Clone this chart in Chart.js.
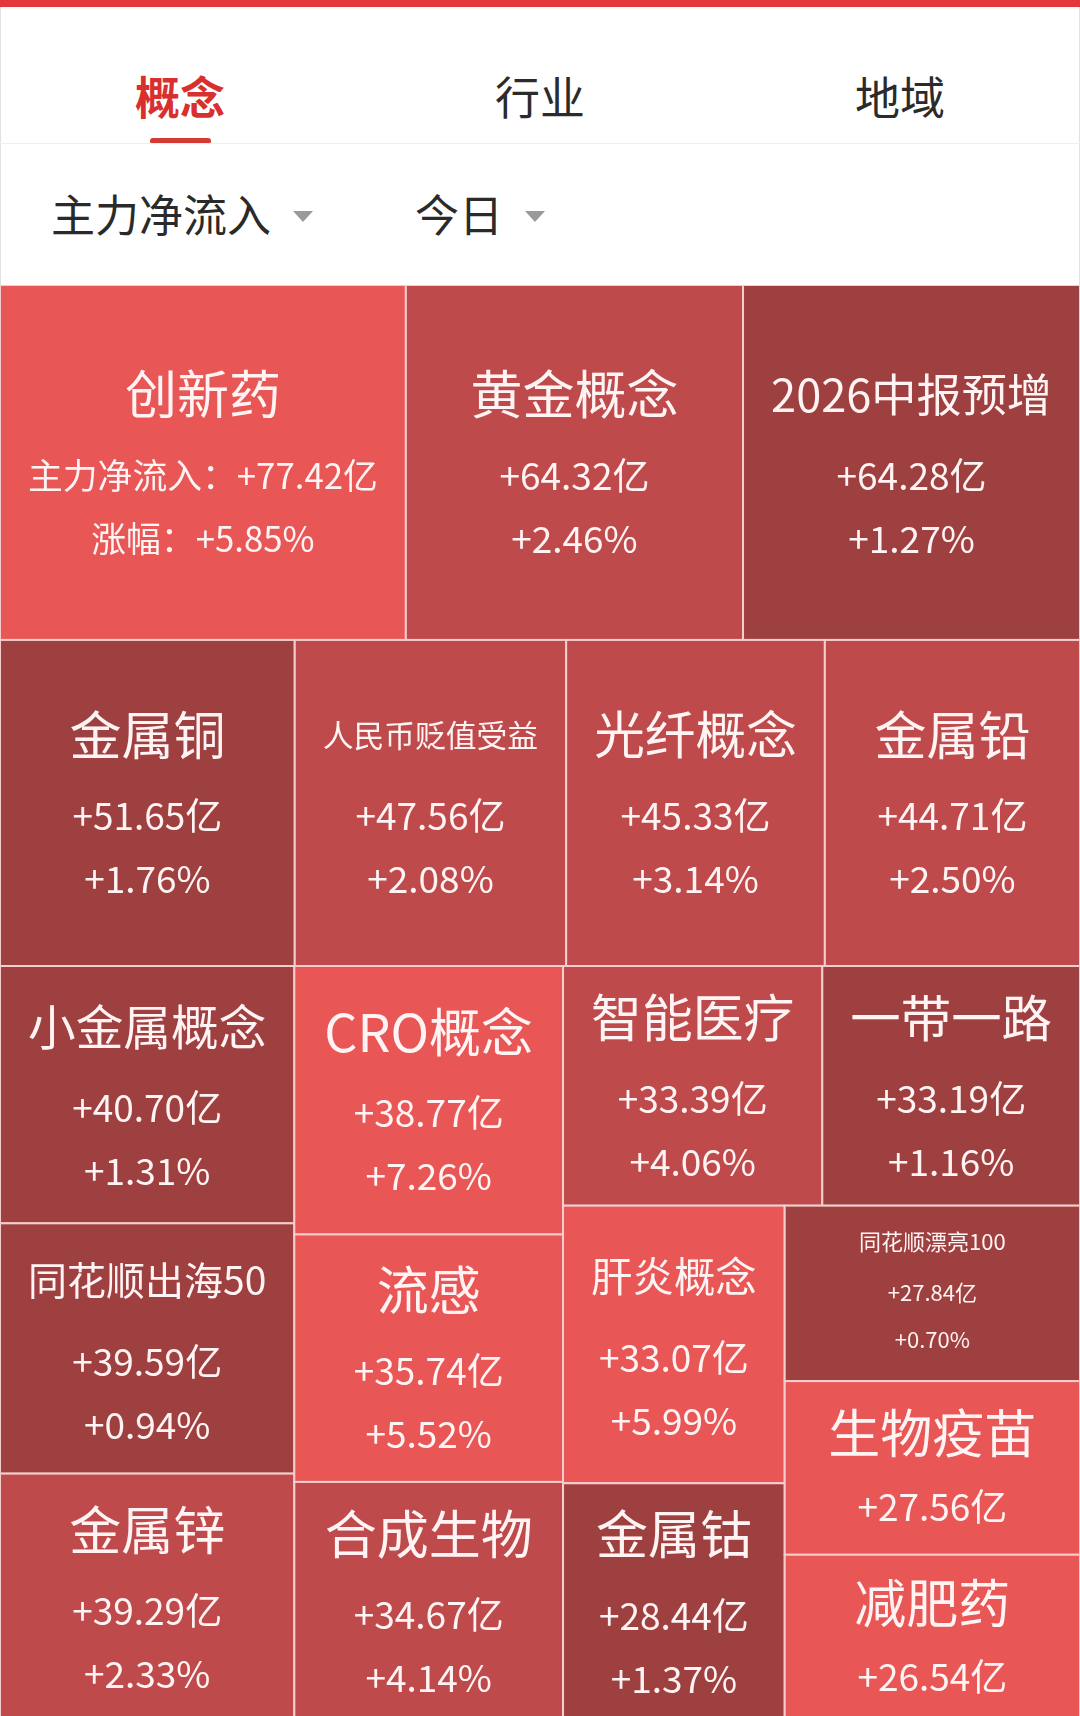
<!DOCTYPE html>
<html>
<head>
<meta charset="utf-8">
<script src="https://cdn.jsdelivr.net/npm/chart.js@4.4.1/dist/chart.umd.min.js"></script>
<style>
  html, body { margin: 0; padding: 0; width: 1080px; height: 1716px; overflow: hidden; background: #fff; }
  body { font-family: "Noto Sans CJK SC", "Noto Sans", sans-serif; position: relative; }
  .topbar { position: absolute; left: 0; top: 0; width: 1080px; height: 7px; background: #e5383b; }
  .frame { position: absolute; left: 0; top: 7px; width: 1078px; height: 280px; border-left: 1px solid #e2e2e2; border-right: 1px solid #e2e2e2; }
  .tab { position: absolute; top: 68px; width: 360px; text-align: center; font-size: 45px; line-height: 56px; color: #2b2b2b; }
  .tab.on { color: #d9302f; font-weight: bold; }
  .underline { position: absolute; left: 150px; top: 138px; width: 61px; height: 6px; border-radius: 3px; background: #d63a35; }
  .sep { position: absolute; left: 0; top: 143px; width: 1080px; height: 1px; background: #efefef; }
  .drop { position: absolute; top: 185px; font-size: 44px; line-height: 56px; color: #2a2a2a; }
  .tri { position: absolute; top: 211px; width: 0; height: 0; border-left: 10px solid transparent; border-right: 10px solid transparent; border-top: 11px solid #9a9a9a; }
  #wrap { position: absolute; left: 0; top: 285px; width: 1080px; height: 1437px; }
</style>
</head>
<body>
<div class="topbar"></div>
<div class="frame"></div>
<div class="tab on" style="left:0">概念</div>
<div class="tab" style="left:360px">行业</div>
<div class="tab" style="left:720px">地域</div>
<div class="underline"></div>
<div class="sep"></div>
<div class="drop" style="left:51px">主力净流入</div>
<div class="tri" style="left:293px"></div>
<div class="drop" style="left:415px">今日</div>
<div class="tri" style="left:525px"></div>
<div id="wrap"><canvas id="chart"></canvas></div>
<script>
// 概念板块 主力净流入 (亿) and 涨幅 (%)
const names = ['创新药', '黄金概念', '2026中报预增', '金属铜', '人民币贬值受益', '光纤概念', '金属铅',
  '小金属概念', '同花顺出海50', '金属锌', 'CRO概念', '流感', '合成生物', '智能医疗', '一带一路',
  '肝炎概念', '金属钴', '同花顺漂亮100', '生物疫苗', '减肥药'];
const inflows = [77.42, 64.32, 64.28, 51.65, 47.56, 45.33, 44.71, 40.70, 39.59, 39.29, 38.77, 35.74,
  34.67, 33.39, 33.19, 33.07, 28.44, 27.84, 27.56, 26.54];
// last two are hidden in the screenshot; colour says >= 5%
const changes = [5.85, 2.46, 1.27, 1.76, 2.08, 3.14, 2.50, 1.31, 0.94, 2.33, 7.26, 5.52, 4.14, 4.06, 1.16,
  5.99, 1.37, 0.70, 5.5, 5.5];

const FONT = '"Noto Sans CJK SC", "Noto Sans", sans-serif';

function colorFor(pct) {
  if (pct >= 5) return '#e85656';
  if (pct >= 2) return '#be4a4b';
  return '#9e3f40';
}

function sum(arr) { return arr.reduce((a, b) => a + b, 0); }

function worst(row, side) {
  const s = sum(row);
  const mx = Math.max(...row), mn = Math.min(...row);
  return Math.max(side * side * mx / (s * s), (s * s) / (side * side * mn));
}

// classic squarified treemap, values already sorted high to low
function squarify(values, x, y, w, h) {
  const scale = w * h / sum(values);
  const areas = values.map(v => v * scale);
  const out = [];
  let i = 0;
  while (i < areas.length) {
    const side = Math.min(w, h);
    const row = [areas[i]];
    let j = i + 1;
    while (j < areas.length && worst(row.concat(areas[j]), side) <= worst(row, side)) {
      row.push(areas[j]);
      j++;
    }
    const s = sum(row);
    if (w < h) {
      const rh = s / w;
      let cx = x;
      row.forEach(a => { out.push({ x: cx, y: y, w: a / rh, h: rh }); cx += a / rh; });
      y += rh; h -= rh;
    } else {
      const cw = s / h;
      let cy = y;
      row.forEach(a => { out.push({ x: x, y: cy, w: cw, h: a / cw }); cy += a / cw; });
      x += cw; w -= cw;
    }
    i = j;
  }
  return out;
}

function fitPx(ctx, text, px, maxW) {
  ctx.font = `${px}px ${FONT}`;
  const tw = ctx.measureText(text).width;
  return tw > maxW ? px * maxW / tw : px;
}

// which text lines a cell shows, depending on its size
function cellLines(ctx, i, w, h) {
  const name = names[i];
  const val = '+' + inflows[i].toFixed(2) + '亿';
  const chg = '+' + changes[i].toFixed(2) + '%';
  const titlePx = fitPx(ctx, name, 52, w - 56);
  if (h >= 200) {
    if (w > 380) {
      // widest cell spells out what the numbers are
      const v = '主力净流入：' + val;
      const px = fitPx(ctx, v, 37, w - 56);
      return [
        { text: name, px: titlePx, dy: -68 },
        { text: v, px: px, dy: 13 },
        { text: '涨幅：' + chg, px: px, dy: 76 }
      ];
    }
    return [
      { text: name, px: titlePx, dy: -68 },
      { text: val, px: 37, dy: 13 },
      { text: chg, px: 37, dy: 76 }
    ];
  }
  if (titlePx >= 40) {
    return [
      { text: name, px: titlePx, dy: -35 },
      { text: val, px: 37, dy: 39 }
    ];
  }
  return [
    { text: name, px: 22, dy: -52 },
    { text: val, px: 22, dy: -1 },
    { text: chg, px: 22, dy: 46 }
  ];
}

class CellElement extends Chart.Element {
  static id = 'cell';
  static defaults = { backgroundColor: '#999', borderColor: '#fff', borderWidth: 2 };

  draw(ctx) {
    const { x, y, width, height, options, lines } = this;
    if (!isFinite(x) || !isFinite(y)) return;
    ctx.save();
    ctx.fillStyle = options.backgroundColor;
    ctx.fillRect(x, y, width, height);
    ctx.lineWidth = options.borderWidth;
    ctx.strokeStyle = options.borderColor;
    ctx.strokeRect(x, y, width, height);
    ctx.fillStyle = '#fff3f3';
    ctx.textAlign = 'center';
    ctx.textBaseline = 'middle';
    const cx = x + width / 2, cy = y + height / 2;
    (lines || []).forEach(l => {
      ctx.font = `${l.px}px ${FONT}`;
      ctx.fillText(l.text, cx, cy + l.dy);
    });
    ctx.restore();
  }
}

class TreemapController extends Chart.DatasetController {
  static id = 'treemap';
  static defaults = { datasetElementType: false, dataElementType: 'cell' };

  parse(start, count) {
    const meta = this._cachedMeta;
    for (let i = start; i < start + count; i++) meta._parsed[i] = { x: 0, y: 0 };
  }

  update(mode) {
    const meta = this._cachedMeta;
    this.updateElements(meta.data, 0, meta.data.length, mode);
  }

  updateElements(cells, start, count, mode) {
    const meta = this._cachedMeta;
    const xs = meta.xScale, ys = meta.yScale;
    const data = this.getDataset().data;
    const rects = squarify(data, xs.min, ys.min, xs.max - xs.min, ys.max - ys.min);
    const ctx = this.chart.ctx;
    for (let i = start; i < start + count; i++) {
      const r = rects[i];
      const x0 = xs.getPixelForValue(r.x), x1 = xs.getPixelForValue(r.x + r.w);
      const y0 = ys.getPixelForValue(r.y), y1 = ys.getPixelForValue(r.y + r.h);
      const w = Math.abs(x1 - x0), h = Math.abs(y1 - y0);
      const props = {
        x: Math.min(x0, x1), y: Math.min(y0, y1), width: w, height: h,
        lines: isFinite(w) && isFinite(h) ? cellLines(ctx, i, w, h) : [],
        options: this.resolveDataElementOptions(i, mode)
      };
      Object.assign(cells[i], props);
    }
  }
}

Chart.register(TreemapController, CellElement);

new Chart(document.getElementById('chart'), {
  type: 'treemap',
  data: {
    labels: names,
    datasets: [{
      label: '主力净流入',
      data: inflows,
      backgroundColor: (c) => colorFor(changes[c.dataIndex]),
      borderColor: '#f4cdcd',
      borderWidth: 2
    }]
  },
  options: {
    responsive: true,
    maintainAspectRatio: false,
    animation: false,
    events: [],
    layout: { padding: 0 },
    plugins: { legend: { display: false }, tooltip: { enabled: false } },
    scales: {
      x: { type: 'linear', min: 0, max: 1080, display: false },
      y: { type: 'linear', min: 0, max: 1437, reverse: true, display: false }
    }
  }
});
</script>
</body>
</html>
